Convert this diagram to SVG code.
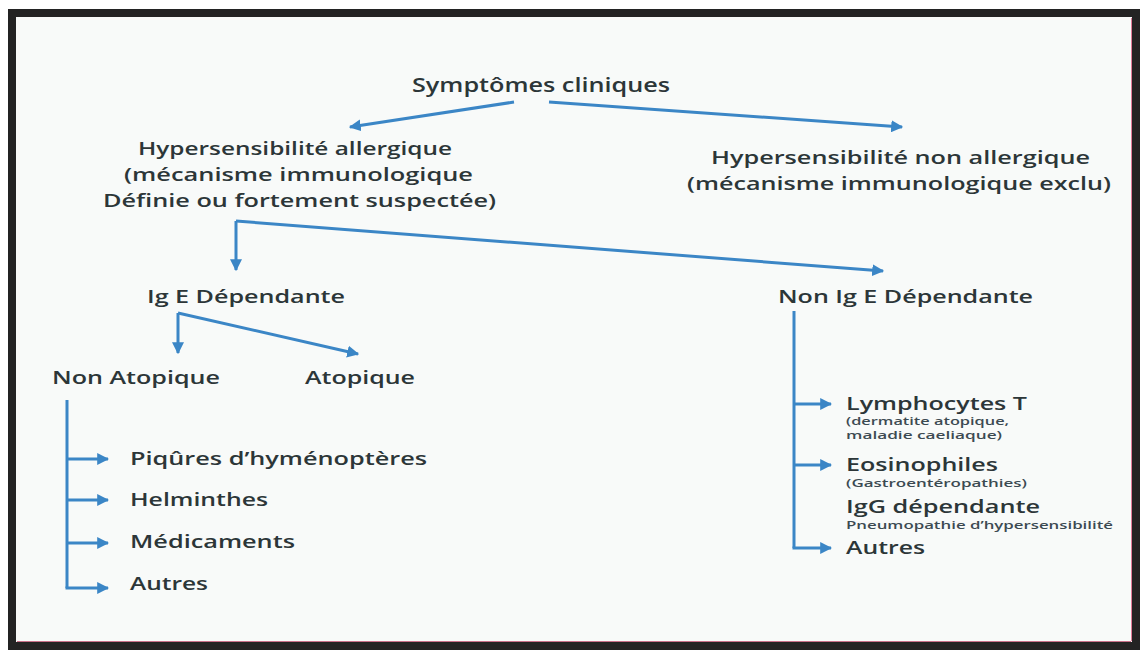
<svg xmlns="http://www.w3.org/2000/svg" width="1143" height="652" viewBox="0 0 1143 652">
<defs>
<marker id="ah" viewBox="0 0 10 10" refX="9" refY="5" markerWidth="4" markerHeight="4" orient="auto" markerUnits="strokeWidth">
<path d="M0,0 L10,5 L0,10 z" fill="#3b86c6"/>
</marker>
<style>
.t{font-family:"Open Sans","Liberation Sans",sans-serif;font-weight:600;fill:#2c3638}
.m{font-size:18px}
.s{font-size:11px;fill:#3c4a52}
.c{fill:none;stroke:#3b86c6;stroke-width:3;stroke-linejoin:round}
.ca{fill:none;stroke:#3b86c6;stroke-width:3;marker-end:url(#ah)}
</style>
</defs>
<rect x="0" y="0" width="1143" height="652" fill="#ffffff"/>
<rect x="12" y="13" width="1124" height="633" fill="#f8faf9" stroke="#232323" stroke-width="8"/>
<line x1="1131.5" y1="18" x2="1131.5" y2="641" stroke="#e07a98" stroke-width="1"/>
<line x1="17" y1="641.5" x2="1131" y2="641.5" stroke="#c87088" stroke-width="1"/>

<g id="connectors">
<path class="ca" d="M514,102 L350,127"/>
<path class="ca" d="M549,102 L902,127"/>
<path class="ca" d="M236,221 L236,270"/>
<path class="ca" d="M236,221 L883,271"/>
<path class="ca" d="M178,313 L178,353"/>
<path class="ca" d="M178,313 L358,354"/>
<path class="c" d="M67,400 L67,588"/>
<path class="ca" d="M67,459 L108,459"/>
<path class="ca" d="M67,500 L108,500"/>
<path class="ca" d="M67,543 L108,543"/>
<path class="ca" d="M65.5,588 L108,588"/>
<path class="c" d="M794,311 L794,548"/>
<path class="ca" d="M794,404 L831,404"/>
<path class="ca" d="M794,465 L831,465"/>
<path class="ca" d="M792.5,548 L831,548"/>
</g>

<g id="n-symptomes"><text class="t" x="412" y="92" font-size="19" textLength="258" lengthAdjust="spacingAndGlyphs">Symptômes cliniques</text></g>
<g id="n-allergique">
<text class="t m" x="138" y="155" textLength="314" lengthAdjust="spacingAndGlyphs">Hypersensibilité allergique</text>
<text class="t m" x="124" y="181" textLength="349" lengthAdjust="spacingAndGlyphs">(mécanisme immunologique</text>
<text class="t m" x="103" y="207" textLength="393" lengthAdjust="spacingAndGlyphs">Définie ou fortement suspectée)</text>
</g>
<g id="n-nonallergique">
<text class="t m" x="711" y="164" textLength="379" lengthAdjust="spacingAndGlyphs">Hypersensibilité non allergique</text>
<text class="t m" x="687" y="190" textLength="424" lengthAdjust="spacingAndGlyphs">(mécanisme immunologique exclu)</text>
</g>
<g id="n-ige"><text class="t m" x="147" y="303" textLength="198" lengthAdjust="spacingAndGlyphs">Ig E Dépendante</text></g>
<g id="n-nonige"><text class="t m" x="778" y="303" textLength="255" lengthAdjust="spacingAndGlyphs">Non Ig E Dépendante</text></g>
<g id="n-nonatopique"><text class="t m" x="52" y="384" textLength="168" lengthAdjust="spacingAndGlyphs">Non Atopique</text></g>
<g id="n-atopique"><text class="t m" x="305" y="384" textLength="110" lengthAdjust="spacingAndGlyphs">Atopique</text></g>
<g id="n-piqures"><text class="t m" x="130" y="465" textLength="297" lengthAdjust="spacingAndGlyphs">Piqûres d’hyménoptères</text></g>
<g id="n-helminthes"><text class="t m" x="130" y="506" textLength="138" lengthAdjust="spacingAndGlyphs">Helminthes</text></g>
<g id="n-medicaments"><text class="t m" x="130" y="548" textLength="165" lengthAdjust="spacingAndGlyphs">Médicaments</text></g>
<g id="n-autres1"><text class="t m" x="130" y="590" textLength="78" lengthAdjust="spacingAndGlyphs">Autres</text></g>
<g id="n-lympho">
<text class="t m" x="846" y="410" textLength="181" lengthAdjust="spacingAndGlyphs">Lymphocytes T</text>
<text class="t s" x="846" y="425" textLength="163" lengthAdjust="spacingAndGlyphs">(dermatite atopique,</text>
<text class="t s" x="846" y="439" textLength="156" lengthAdjust="spacingAndGlyphs">maladie caeliaque)</text>
</g>
<g id="n-eosino">
<text class="t m" x="846" y="471" textLength="152" lengthAdjust="spacingAndGlyphs">Eosinophiles</text>
<text class="t s" x="846" y="487" textLength="181" lengthAdjust="spacingAndGlyphs">(Gastroentéropathies)</text>
</g>
<g id="n-igg">
<text class="t m" x="846" y="513" textLength="194" lengthAdjust="spacingAndGlyphs">IgG dépendante</text>
<text class="t s" x="846" y="529" textLength="267" lengthAdjust="spacingAndGlyphs">Pneumopathie d’hypersensibilité</text>
</g>
<g id="n-autres2"><text class="t m" x="846" y="554" textLength="79" lengthAdjust="spacingAndGlyphs">Autres</text></g>
</svg>
